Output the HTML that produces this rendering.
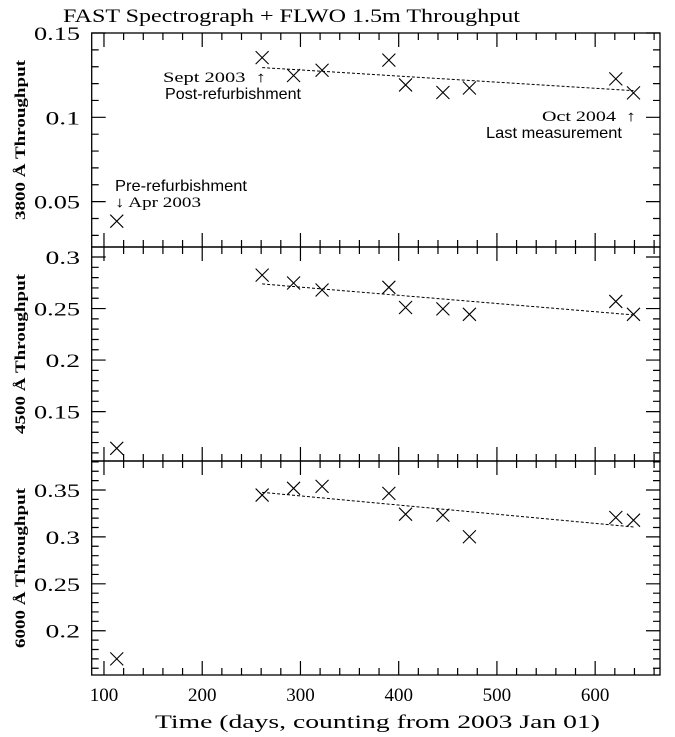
<!DOCTYPE html>
<html><head><meta charset="utf-8"><style>
html,body{margin:0;padding:0;background:#fff;}
svg{display:block;}
text{fill:#000;}
.ser{font-family:"Liberation Serif","DejaVu Serif",serif;}
.san{font-family:"Liberation Sans","DejaVu Sans",sans-serif;}
</style></head><body>
<svg id="chart" width="675" height="737" xmlns="http://www.w3.org/2000/svg">
<text class="ser" x="63" y="22" font-size="19" textLength="457" lengthAdjust="spacingAndGlyphs">FAST Spectrograph + FLWO 1.5m Throughput</text>
<g id="panels"></g>
<text class="ser" x="155" y="728" font-size="19" textLength="445" lengthAdjust="spacingAndGlyphs">Time (days, counting from 2003 Jan 01)</text>
<text class="ser" x="163" y="82" font-size="15" textLength="103" lengthAdjust="spacingAndGlyphs">Sept 2003 &#160;↑</text>
<text class="san" x="165" y="99" font-size="16" textLength="136" lengthAdjust="spacingAndGlyphs">Post-refurbishment</text>
<text class="ser" x="542" y="121" font-size="15" textLength="94" lengthAdjust="spacingAndGlyphs">Oct 2004 &#160;↑</text>
<text class="san" x="486" y="138" font-size="16" textLength="136" lengthAdjust="spacingAndGlyphs">Last measurement</text>
<text class="san" x="115" y="191" font-size="16" textLength="132" lengthAdjust="spacingAndGlyphs">Pre-refurbishment</text>
<text class="ser" x="115" y="207" font-size="15" textLength="86" lengthAdjust="spacingAndGlyphs">↓ Apr 2003</text>
</svg>
<script>
const days = [113, 261, 293, 322, 390, 407, 445, 472, 621, 639];
const t3800 = [0.0384, 0.1354, 0.1248, 0.1279, 0.1339, 0.1192, 0.1147, 0.1174, 0.1228, 0.1145];
const t4500 = [0.1144, 0.2824, 0.2748, 0.268, 0.2706, 0.251, 0.2497, 0.2444, 0.2569, 0.2444];
const t6000 = [0.170, 0.3446, 0.3518, 0.3539, 0.3464, 0.3242, 0.3232, 0.3002, 0.3207, 0.3178];
const fitDays = [261, 639];
const fit3800 = [0.1295, 0.1158];
const fit4500 = [0.2739, 0.2438];
const fit6000 = [0.3475, 0.3106];
const xTicks = [100, 200, 300, 400, 500, 600];
const yTicks3800 = ["0.15", "0.1", "0.05"];
const yTicks4500 = ["0.3", "0.25", "0.2", "0.15"];
const yTicks6000 = ["0.35", "0.3", "0.25", "0.2"];

const NS = "http://www.w3.org/2000/svg";
const L = 91.7, R = 660, X0 = 87.5, X1 = 666;
const xs = d => L + (d - X0) / (X1 - X0) * (R - L);
const g = document.getElementById('panels');
function mk(tag, attrs, parent) {
  const e = document.createElementNS(NS, tag);
  for (const k in attrs) e.setAttribute(k, attrs[k]);
  (parent || g).appendChild(e);
  return e;
}
const panels = [
  {name: '3800', top: 33, bot: 247, y0: 0.0231, y1: 0.15, ticks: yTicks3800, vals: t3800, fit: fit3800},
  {name: '4500', top: 247, bot: 461, y0: 0.1021, y1: 0.3097, ticks: yTicks4500, vals: t4500, fit: fit4500},
  {name: '6000', top: 461, bot: 675, y0: 0.1528, y1: 0.3809, ticks: yTicks6000, vals: t6000, fit: fit6000}
];
panels.forEach((p, pi) => {
  const ys = v => p.bot - (v - p.y0) / (p.y1 - p.y0) * (p.bot - p.top);
  const pg = mk('g', {});
  
  
  const fr = mk('rect', {x: L, y: p.top, width: R - L, height: p.bot - p.top, fill: 'none', stroke: '#000', 'stroke-width': 1.3}, pg);
  
  
  let path = '';
  const start = Math.ceil(p.y0 * 100 - 1e-6), end = Math.floor(p.y1 * 100 + 1e-6);
  for (let k = start; k <= end; k++) {
    const y = ys(k / 100);
    const len = (k % 5 === 0) ? 14 : 7;
    path += `M${L} ${y}h${len}M${R} ${y}h${-len}`;
  }
  for (let d = 100; d <= 660; d += 20) {
    const x = xs(d);
    const len = (d % 100 === 0) ? 14 : 7;
    path += `M${x} ${p.bot}v${-len}M${x} ${p.top}v${len}`;
  }
  const tk = mk('path', {d: path, stroke: '#000', 'stroke-width': 1.2, fill: 'none'}, pg);
  
  
  p.ticks.forEach(t => {
    const w = t.length * 11.5;
    const tx = mk('text', {x: 80 - w, y: ys(parseFloat(t)) + 7, 'font-size': 19, class: 'ser', textLength: w, lengthAdjust: 'spacingAndGlyphs'}, pg);
    tx.textContent = t;
    
    
  });
  const cy = (p.top + p.bot) / 2;
  const yt = mk('text', {x: -80, y: 0, 'font-size': 15, 'font-weight': 'bold', class: 'ser', textLength: 160, lengthAdjust: 'spacingAndGlyphs', transform: `translate(25 ${cy}) rotate(-90)`}, pg);
  yt.textContent = p.name + ' Å Throughput';
  
  
  const fl = mk('line', {x1: xs(fitDays[0]), y1: ys(p.fit[0]), x2: xs(fitDays[1]), y2: ys(p.fit[1]), stroke: '#000', 'stroke-width': 1, 'stroke-dasharray': '3 2'}, pg);
  
  
  days.forEach((d, i) => {
    const x = xs(d), y = ys(p.vals[i]), s = 6.5;
    const m = mk('path', {d: `M${x - s} ${y - s}L${x + s} ${y + s}M${x - s} ${y + s}L${x + s} ${y - s}`, stroke: '#000', 'stroke-width': 1.1, fill: 'none'}, pg);
    
    
  });
  if (pi === 2) {
    xTicks.forEach(t => {
      const tx = mk('text', {x: xs(t), y: 701, 'font-size': 19, 'text-anchor': 'middle', class: 'ser'}, pg);
      tx.textContent = t;
      
      
    });
  }
});
</script>
</body></html>
